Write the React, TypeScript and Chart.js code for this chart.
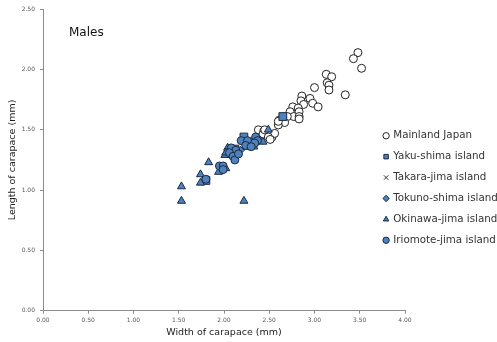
import { useEffect, useRef } from "react";
import { Chart, registerables } from "chart.js";

Chart.register(...registerables);

const chartTitle = "Males";
const xAxisTitle = "Width of carapace (mm)";
const yAxisTitle = "Length of carapace (mm)";

const seriesNames = [
  "Mainland Japan",
  "Yaku-shima island",
  "Takara-jima island",
  "Tokuno-shima island",
  "Okinawa-jima island",
  "Iriomote-jima island",
];

const mainlandWidth = [3.48, 3.43, 3.52, 3.13, 3.19, 3.14, 3.16, 3.16, 3.0, 3.34, 2.86, 2.95, 2.85, 2.88, 2.98, 3.04, 2.76, 2.82, 2.73, 2.83, 2.77, 2.83, 2.83, 2.7, 2.61, 2.67, 2.6, 2.38, 2.44, 2.53, 2.56, 2.43, 2.45, 2.49, 2.51, 2.6];
const mainlandLength = [2.14, 2.09, 2.01, 1.96, 1.94, 1.89, 1.87, 1.83, 1.85, 1.79, 1.78, 1.76, 1.74, 1.71, 1.72, 1.69, 1.69, 1.68, 1.65, 1.65, 1.61, 1.61, 1.59, 1.61, 1.58, 1.56, 1.54, 1.5, 1.49, 1.44, 1.47, 1.46, 1.5, 1.44, 1.42, 1.57];

const yakuWidth = [2.65, 2.22, 2.25, 2.12, 1.8, 2.33];
const yakuLength = [1.61, 1.44, 1.37, 1.34, 1.08, 1.4];

const takaraWidth = [2.3, 2.4];
const takaraLength = [1.38, 1.4];

const tokunoWidth = [2.05, 2.18, 2.28, 2.38];
const tokunoLength = [1.3, 1.33, 1.38, 1.43];

const okinawaWidth = [1.53, 1.53, 2.22, 1.83, 1.74, 1.74, 1.94, 2.02, 2.04, 2.01, 2.43, 2.49, 2.25, 2.33, 2.02];
const okinawaLength = [1.03, 0.91, 0.91, 1.23, 1.13, 1.06, 1.15, 1.18, 1.35, 1.29, 1.4, 1.5, 1.4, 1.36, 1.31];

const iriomoteWidth = [1.95, 1.99, 2.08, 2.13, 2.06, 2.1, 2.12, 2.19, 2.26, 2.24, 2.35, 2.37, 2.34, 2.3, 1.8, 2.16, 1.99];
const iriomoteLength = [1.2, 1.2, 1.35, 1.33, 1.31, 1.28, 1.25, 1.41, 1.41, 1.37, 1.44, 1.41, 1.39, 1.36, 1.09, 1.3, 1.17];

const xMin = 0;
const xMax = 4;
const xStep = 0.5;
const yMin = 0;
const yMax = 2.5;
const yStep = 0.5;

const FONT = '"DejaVu Sans", Verdana, sans-serif';
const BLUE = "#4F81BD";
const DARK = "#1a2a40";

function zip(xs: number[], ys: number[]) {
  return xs.map((x, i) => ({ x, y: ys[i] }));
}

export default function App() {
  const ref = useRef<HTMLCanvasElement | null>(null);

  useEffect(() => {
    if (!ref.current) return;
    const common = { showLine: false, borderWidth: 1 };
    const chart = new Chart(ref.current, {
      type: "scatter",
      data: {
        datasets: [
          { ...common, label: seriesNames[0], data: zip(mainlandWidth, mainlandLength), pointStyle: "circle", pointRadius: 4, backgroundColor: "#ffffff", borderColor: "#222222", order: 6 },
          { ...common, label: seriesNames[1], data: zip(yakuWidth, yakuLength), pointStyle: "rect", pointRadius: 5.5, backgroundColor: BLUE, borderColor: DARK, order: 5 },
          { ...common, label: seriesNames[2], data: zip(takaraWidth, takaraLength), pointStyle: "crossRot", pointRadius: 4, backgroundColor: "#333333", borderColor: "#333333", order: 4 },
          { ...common, label: seriesNames[3], data: zip(tokunoWidth, tokunoLength), pointStyle: "rectRot", pointRadius: 4, backgroundColor: BLUE, borderColor: DARK, order: 3 },
          { ...common, label: seriesNames[4], data: zip(okinawaWidth, okinawaLength), pointStyle: "triangle", pointRadius: 4.6, backgroundColor: BLUE, borderColor: DARK, order: 2 },
          { ...common, label: seriesNames[5], data: zip(iriomoteWidth, iriomoteLength), pointStyle: "circle", pointRadius: 4, backgroundColor: BLUE, borderColor: DARK, order: 1 },
        ],
      },
      options: {
        animation: false,
        responsive: false,
        layout: { padding: { top: 9.2, left: 0, right: 0, bottom: 0 } },
        scales: {
          x: {
            type: "linear",
            min: xMin,
            max: xMax,
            ticks: {
              stepSize: xStep,
              callback: (v: any) => Number(v).toFixed(2),
              font: { family: FONT, size: 6 },
              color: "#595959",
              padding: 3,
              maxRotation: 0,
            },
            grid: { drawOnChartArea: false, tickLength: 3, color: "#8c8c8c" },
            border: { color: "#8c8c8c" },
            title: {
              display: true,
              text: xAxisTitle,
              font: { family: FONT, size: 9.5 },
              color: "#222222",
              padding: { top: 0, bottom: 3.3 },
            },
            afterFit: (s: any) => {
              s.height = 31.3;
            },
          },
          y: {
            type: "linear",
            min: yMin,
            max: yMax,
            ticks: {
              stepSize: yStep,
              callback: (v: any) => Number(v).toFixed(2),
              font: { family: FONT, size: 6 },
              color: "#595959",
              padding: 5,
            },
            grid: { drawOnChartArea: false, tickLength: 3, color: "#8c8c8c" },
            border: { color: "#8c8c8c" },
            title: {
              display: true,
              text: yAxisTitle,
              font: { family: FONT, size: 9.5 },
              color: "#222222",
              padding: { top: 6.6, bottom: 0 },
            },
            afterFit: (s: any) => {
              s.width = 43;
            },
          },
        },
        plugins: {
          tooltip: { enabled: false },
          legend: {
            display: true,
            position: "right",
            align: "start",
            maxWidth: 92,
            labels: {
              usePointStyle: true,
              boxWidth: 4,
              boxHeight: 4.5,
              padding: 10.6,
              color: "#333333",
              font: { family: FONT, size: 10.3 },
              sort: (a: any, b: any) => a.datasetIndex - b.datasetIndex,
            },
          },
        },
      },
      plugins: [
        {
          id: "legendPlace",
          afterLayout(c: any) {
            const lg = c.legend;
            if (!lg) return;
            lg.left = 373.5;
            lg.right = c.width;
            lg.width = lg.right - lg.left;
            lg.top = 120;
            lg.bottom = c.height;
            lg.height = lg.bottom - lg.top;
          },
        },
        {
          id: "malesLabel",
          afterDraw(c: any) {
            const ctx = c.ctx;
            const a = c.chartArea;
            ctx.save();
            ctx.font = `12px ${FONT}`;
            ctx.fillStyle = "#111111";
            ctx.textBaseline = "middle";
            ctx.textAlign = "left";
            ctx.fillText(chartTitle, a.left + 26, a.top + 24);
            ctx.restore();
          },
        },
      ],
    } as any);
    return () => chart.destroy();
  }, []);

  return (
    <div style={{ position: "absolute", left: 0, top: 0, width: 497, height: 342, background: "#ffffff" }}>
      <canvas ref={ref} width={497} height={342} style={{ display: "block" }} />
    </div>
  );
}
